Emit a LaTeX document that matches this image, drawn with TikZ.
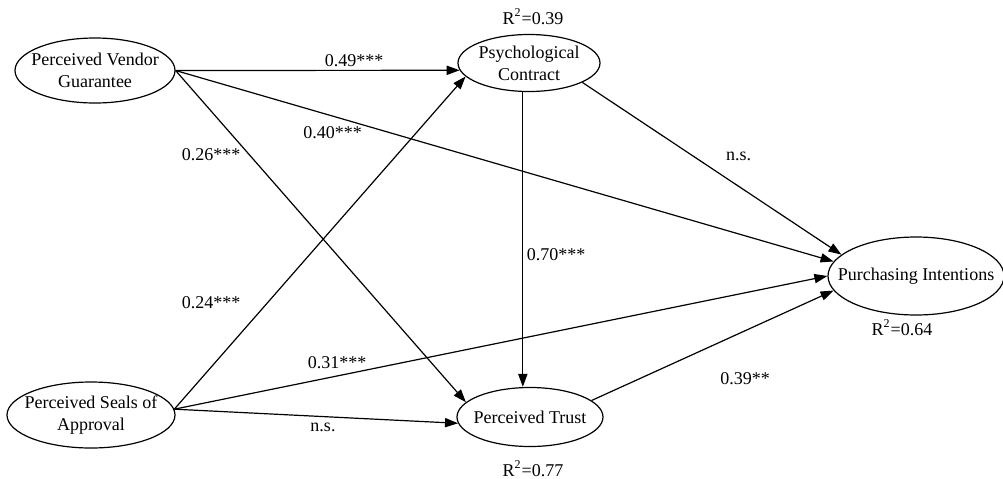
\documentclass[tikz,border=0pt]{standalone}
\usepackage{fontspec}
\setmainfont{Liberation Serif}
\usetikzlibrary{shapes.geometric,arrows.meta}
\begin{document}
\begin{tikzpicture}[x=0.5pt,y=-0.5pt,
  every node/.style={font=\fontsize{9}{10.85}\selectfont},
  latent/.style={ellipse,draw,line width=0.6pt,inner sep=-20pt,align=center},
  arr/.style={line width=0.6pt,-{Triangle[length=6.5pt,width=4.6pt]}},
  lab/.style={anchor=base,inner sep=0pt}]
\useasboundingbox (0,0) rectangle (1003,478);
\node[latent,minimum width=80pt,minimum height=32.5pt] (pvg) at (95,70.5) {Perceived Vendor\\Guarantee};
\node[latent,minimum width=71pt,minimum height=28.5pt] (pc) at (529,63) {Psychological\\Contract};
\node[latent,minimum width=88pt,minimum height=39pt] (pi) at (916,276) {Purchasing Intentions};
\node[latent,minimum width=84pt,minimum height=33pt] (psa) at (91,415) {Perceived Seals of\\Approval};
\node[latent,minimum width=73pt,minimum height=29.5pt] (pt) at (530,417) {Perceived Trust};

\draw[arr] (pvg.east) -- (pc.186);
\draw[arr] (pvg.east) -- (pi.170);
\draw[arr] (pvg.east) -- (pt.167);
\draw[arr] (pc.258) -- (pc.258 |- pt.north);
\draw[arr] (pc.-20) -- (pi.164);
\draw[arr] (psa.4) -- (pc.192);
\draw[arr] (psa.4) -- (pi.180);
\draw[arr] (psa.4) -- (pt.185);
\draw[arr] (pt.15) -- (pi.190);

\node[lab] (l1) at (354,66.7) {0.49***};
\node[lab] (l2) at (332.5,138) {0.40***};
\node[lab] (l3) at (211,160.7) {0.26***};
\node[lab] (l4) at (738.5,160) {n.s.};
\node[lab] (l5) at (556,260.7) {0.70***};
\node[lab] (l6) at (211,308) {0.24***};
\node[lab] (l7) at (337,368) {0.31***};
\node[lab] (l8) at (745,384) {0.39**};
\node[lab] (l9) at (323,431.7) {n.s.};
\node[lab] (r1) at (533,24) {R\textsuperscript{2}=0.39};
\node[lab] (r2) at (902,335) {R\textsuperscript{2}=0.64};
\node[lab] (r3) at (533,476) {R\textsuperscript{2}=0.77};
\end{tikzpicture}
\end{document}
